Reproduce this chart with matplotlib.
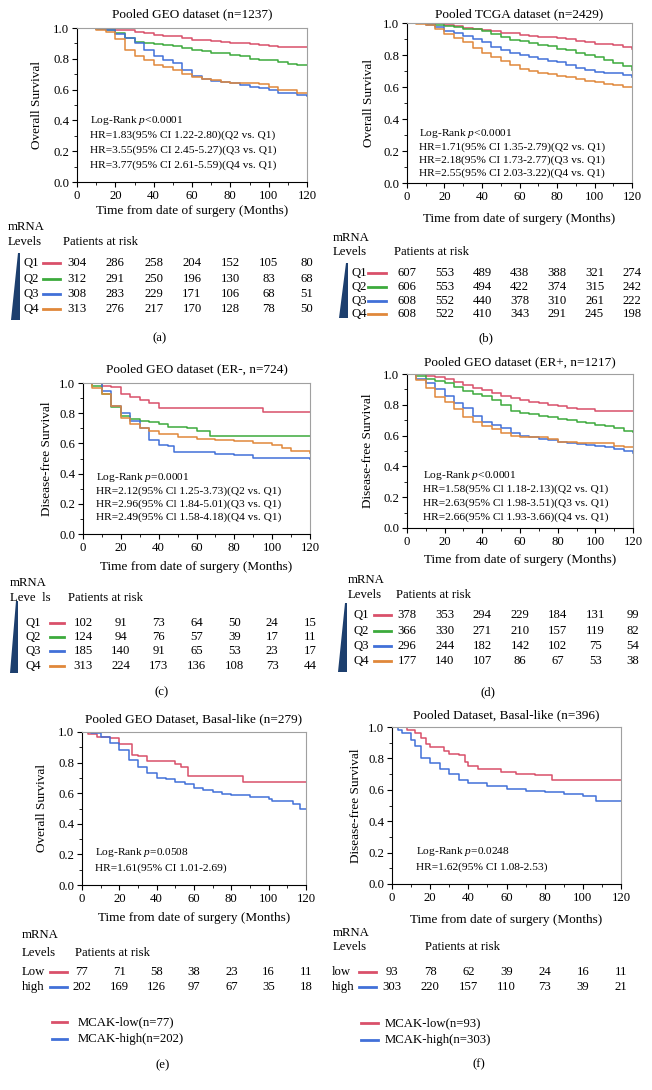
import matplotlib
matplotlib.use("Agg")
import matplotlib.pyplot as plt
import matplotlib.transforms as mtransforms
from matplotlib.lines import Line2D
from matplotlib.patches import Polygon
from matplotlib.ticker import MultipleLocator, FormatStrFormatter

plt.rcParams['font.family'] = ['Liberation Serif', 'DejaVu Serif']
plt.rcParams['mathtext.fontset'] = 'custom'
plt.rcParams['mathtext.rm'] = 'Liberation Serif'
plt.rcParams['mathtext.it'] = 'Liberation Serif:italic'

# ---------------- colours ----------------
C_RED = "#d9506a"
C_GREEN = "#3caa3c"
C_BLUE = "#4170d8"
C_ORANGE = "#e0883a"
C_TRI = "#1d3f6e"

# ---------------- data ----------------
risk_times = [0, 20, 40, 60, 80, 100, 120]
grid5 = [0, 5, 10, 15, 20, 25, 30, 35, 40, 45, 50, 55, 60, 65, 70, 75, 80, 85, 90, 95, 100, 105, 110, 115, 120]

# Panel (a) Pooled GEO dataset, overall survival
a_q1 = [1, 1, 1, 0.995, 0.99, 0.985, 0.975, 0.965, 0.955, 0.95, 0.945, 0.935, 0.925, 0.92, 0.915, 0.91, 0.905, 0.90, 0.895, 0.89, 0.885, 0.875, 0.875, 0.875, 0.875]
a_q2 = [1, 1, 0.995, 0.985, 0.965, 0.935, 0.91, 0.90, 0.895, 0.89, 0.88, 0.87, 0.86, 0.85, 0.84, 0.835, 0.825, 0.815, 0.80, 0.795, 0.79, 0.78, 0.765, 0.76, 0.76]
a_q3 = [1, 1, 0.995, 0.985, 0.96, 0.935, 0.90, 0.86, 0.82, 0.79, 0.77, 0.73, 0.69, 0.67, 0.655, 0.65, 0.64, 0.63, 0.62, 0.61, 0.595, 0.58, 0.575, 0.565, 0.56]
a_q4 = [1, 1, 0.99, 0.975, 0.93, 0.86, 0.82, 0.79, 0.76, 0.745, 0.73, 0.70, 0.68, 0.67, 0.66, 0.65, 0.645, 0.645, 0.64, 0.635, 0.615, 0.60, 0.595, 0.58, 0.575]
a_risk = {"Q1": [304, 286, 258, 204, 152, 105, 80],
          "Q2": [312, 291, 250, 196, 130, 83, 68],
          "Q3": [308, 283, 229, 171, 106, 68, 51],
          "Q4": [313, 276, 217, 170, 128, 78, 50]}

# Panel (b) Pooled TCGA dataset
b_q1 = [1, 1, 1, 1, 0.99, 0.98, 0.97, 0.96, 0.955, 0.95, 0.94, 0.935, 0.925, 0.92, 0.915, 0.91, 0.905, 0.90, 0.89, 0.88, 0.87, 0.87, 0.86, 0.85, 0.84]
b_q2 = [1, 1, 0.995, 0.99, 0.98, 0.975, 0.965, 0.96, 0.95, 0.93, 0.91, 0.895, 0.885, 0.875, 0.865, 0.855, 0.84, 0.83, 0.815, 0.80, 0.79, 0.77, 0.75, 0.73, 0.705]
b_q3 = [1, 1, 0.99, 0.975, 0.95, 0.94, 0.92, 0.90, 0.88, 0.85, 0.83, 0.81, 0.80, 0.785, 0.775, 0.765, 0.755, 0.74, 0.72, 0.705, 0.695, 0.69, 0.685, 0.675, 0.665]
b_q4 = [1, 0.995, 0.985, 0.965, 0.93, 0.905, 0.88, 0.845, 0.81, 0.785, 0.76, 0.735, 0.71, 0.70, 0.69, 0.68, 0.67, 0.66, 0.65, 0.64, 0.63, 0.62, 0.61, 0.60, 0.60]
b_risk = {"Q1": [607, 553, 489, 438, 388, 321, 274],
          "Q2": [606, 553, 494, 422, 374, 315, 242],
          "Q3": [608, 552, 440, 378, 310, 261, 222],
          "Q4": [608, 522, 410, 343, 291, 245, 198]}

# Panel (c) Pooled GEO dataset ER-
c_q1_t = [0, 5, 10, 15, 20, 25, 30, 35, 40, 95, 120]
c_q1 = [1, 1, 0.98, 0.975, 0.93, 0.91, 0.89, 0.87, 0.835, 0.81, 0.81]
c_q2_t = [0, 5, 10, 15, 20, 25, 30, 35, 40, 45, 55, 60, 67, 120]
c_q2 = [1, 0.98, 0.93, 0.84, 0.78, 0.76, 0.75, 0.74, 0.73, 0.71, 0.70, 0.68, 0.65, 0.65]
c_q3_t = [0, 5, 10, 15, 20, 25, 30, 35, 40, 45, 48, 60, 70, 80, 90, 120]
c_q3 = [1, 1, 0.95, 0.85, 0.80, 0.75, 0.70, 0.62, 0.59, 0.58, 0.545, 0.54, 0.53, 0.52, 0.505, 0.50]
c_q4_t = [0, 5, 10, 15, 20, 25, 30, 35, 40, 50, 60, 70, 80, 90, 100, 105, 110, 120]
c_q4 = [1, 0.97, 0.93, 0.85, 0.77, 0.73, 0.70, 0.68, 0.66, 0.64, 0.63, 0.62, 0.615, 0.60, 0.59, 0.57, 0.55, 0.535]
c_risk = {"Q1": [102, 91, 73, 64, 50, 24, 15],
          "Q2": [124, 94, 76, 57, 39, 17, 11],
          "Q3": [185, 140, 91, 65, 53, 23, 17],
          "Q4": [313, 224, 173, 136, 108, 73, 44]}

# Panel (d) Pooled GEO dataset ER+
d_q1 = [1, 1, 0.99, 0.98, 0.965, 0.95, 0.93, 0.91, 0.895, 0.875, 0.86, 0.845, 0.83, 0.82, 0.81, 0.80, 0.79, 0.78, 0.775, 0.77, 0.76, 0.76, 0.76, 0.76, 0.76]
d_q2 = [1, 0.99, 0.97, 0.955, 0.94, 0.915, 0.89, 0.87, 0.855, 0.83, 0.80, 0.76, 0.745, 0.74, 0.73, 0.72, 0.705, 0.70, 0.69, 0.68, 0.67, 0.665, 0.65, 0.63, 0.625]
d_q3 = [1, 0.97, 0.94, 0.90, 0.86, 0.81, 0.78, 0.73, 0.69, 0.67, 0.65, 0.62, 0.60, 0.59, 0.58, 0.57, 0.56, 0.555, 0.545, 0.54, 0.535, 0.525, 0.515, 0.50, 0.49]
d_q4 = [1, 0.96, 0.91, 0.85, 0.82, 0.77, 0.72, 0.69, 0.665, 0.64, 0.62, 0.595, 0.59, 0.59, 0.59, 0.575, 0.56, 0.56, 0.555, 0.555, 0.555, 0.555, 0.53, 0.525, 0.525]
d_risk = {"Q1": [378, 353, 294, 229, 184, 131, 99],
          "Q2": [366, 330, 271, 210, 157, 119, 82],
          "Q3": [296, 244, 182, 142, 102, 75, 54],
          "Q4": [177, 140, 107, 86, 67, 53, 38]}

# Panel (e) Pooled GEO Dataset, Basal-like, OS
e_low_t = [0, 3, 8, 15, 20, 27, 30, 35, 50, 53, 57, 86, 120]
e_low = [1, 0.985, 0.97, 0.96, 0.92, 0.85, 0.84, 0.81, 0.79, 0.77, 0.71, 0.67, 0.67]
e_high_t = [0, 5, 10, 15, 20, 25, 30, 35, 40, 45, 50, 55, 60, 65, 70, 75, 80, 90, 100, 102, 110, 113, 117, 120]
e_high = [1, 0.995, 0.97, 0.93, 0.88, 0.82, 0.77, 0.73, 0.70, 0.69, 0.67, 0.66, 0.635, 0.62, 0.61, 0.595, 0.585, 0.575, 0.565, 0.55, 0.55, 0.53, 0.50, 0.495]
e_risk = {"Low": [77, 71, 58, 38, 23, 16, 11],
          "high": [202, 169, 126, 97, 67, 35, 18]}

# Panel (f) Pooled Dataset, Basal-like, DFS
f_low_t = [0, 5, 8, 12, 15, 18, 20, 27, 30, 35, 38, 40, 45, 55, 57, 65, 75, 84, 120]
f_low = [1, 1, 0.98, 0.96, 0.93, 0.89, 0.87, 0.85, 0.83, 0.82, 0.78, 0.75, 0.735, 0.73, 0.715, 0.70, 0.695, 0.665, 0.665]
f_high_t = [0, 3, 5, 10, 12, 15, 20, 25, 30, 35, 40, 50, 60, 70, 80, 90, 100, 107, 120]
f_high = [1, 0.98, 0.96, 0.92, 0.88, 0.80, 0.77, 0.73, 0.70, 0.665, 0.645, 0.625, 0.605, 0.595, 0.585, 0.575, 0.56, 0.53, 0.53]
f_risk = {"low": [93, 78, 62, 39, 24, 16, 11],
          "high": [303, 220, 157, 110, 73, 39, 21]}

# ---------------- figure ----------------
W, H = 652, 1090
fig = plt.figure(figsize=(W / 100, H / 100), dpi=100)


def fx(x):
    return x / W


def fy(y):
    return 1 - y / H


def make_ax(l, r, t, b):
    return fig.add_axes([fx(l), fy(b), (r - l) / W, (b - t) / H])


def style_ax(ax, ylabel, title, title_y, xlabel_y, ylabel_x, box):
    l, r, t, b = box
    ax.set_xlim(0, 120)
    ax.set_ylim(0, 1.0)
    ax.set_xticks(range(0, 121, 20))
    ax.xaxis.set_minor_locator(MultipleLocator(10))
    ax.set_yticks([0, 0.2, 0.4, 0.6, 0.8, 1.0])
    ax.yaxis.set_minor_locator(MultipleLocator(0.1))
    ax.yaxis.set_major_formatter(FormatStrFormatter('%.1f'))
    ax.tick_params(which='major', direction='out', length=3.5, width=0.8, labelsize=9.2, pad=2)
    ax.tick_params(which='minor', direction='out', length=2, width=0.6)
    for s in ['top', 'right']:
        ax.spines[s].set_color('#a0a0a0')
        ax.spines[s].set_linewidth(0.8)
    for s in ['left', 'bottom']:
        ax.spines[s].set_linewidth(0.8)
    ax.set_xlabel("Time from date of surgery (Months)", fontsize=9.5)
    ax.xaxis.set_label_coords(0.5, -(xlabel_y - b) / (b - t))
    ax.xaxis.label.set_va('center')
    ax.set_ylabel(ylabel, fontsize=9.5)
    ax.yaxis.set_label_coords(-(l - ylabel_x) / (r - l), 0.5)
    ax.yaxis.label.set_va('center')
    fig.text(fx((l + r) / 2), fy(title_y), title, ha='center', va='center', fontsize=9.5)


def km(ax, t, s, color):
    ax.step(t, s, where='post', color=color, lw=1.1)


def risk_table(ax, rows, colors, ys, label_x, seg, tri=None):
    trans = mtransforms.blended_transform_factory(ax.transData, fig.transFigure)
    for (name, vals), c, y in zip(rows.items(), colors, ys):
        fig.text(fx(label_x), fy(y), name, ha='left', va='center', fontsize=9.2)
        fig.add_artist(Line2D([fx(seg[0]), fx(seg[1])], [fy(y), fy(y)],
                              transform=fig.transFigure, color=c, lw=2))
        for tt, v in zip(risk_times, vals):
            ax.text(tt, fy(y), str(v), transform=trans, ha='center', va='center', fontsize=9.2)
    if tri is not None:
        fig.add_artist(Polygon([(fx(px), fy(py)) for px, py in tri], closed=True,
                               transform=fig.transFigure, facecolor=C_TRI, edgecolor='none'))


def header(x, y_mrna, y_lev, x_par, levels_text="Levels"):
    fig.text(fx(x), fy(y_mrna), "mRNA", ha='left', va='center', fontsize=9.2)
    fig.text(fx(x), fy(y_lev), levels_text, ha='left', va='center', fontsize=9.2)
    fig.text(fx(x_par), fy(y_lev), "Patients at risk", ha='left', va='center', fontsize=9.2)


def annot(ax, x, ys, lines):
    for y, txt in zip(ys, lines):
        ax.text(x, y, txt, ha='left', va='center', fontsize=8.2)


q_colors = [C_RED, C_GREEN, C_BLUE, C_ORANGE]

# ---- (a)
box = (77, 307, 28, 182)
ax = make_ax(*box)
for s, c in zip([a_q1, a_q2, a_q3, a_q4], q_colors):
    km(ax, grid5, s, c)
style_ax(ax, "Overall Survival", "Pooled GEO dataset (n=1237)", 14, 211, 37, box)
annot(ax, 7, [0.40, 0.303, 0.206, 0.108],
      ["Log-Rank $p$<0.0001",
       "HR=1.83(95% CI 1.22-2.80)(Q2 vs. Q1)",
       "HR=3.55(95% CI 2.45-5.27)(Q3 vs. Q1)",
       "HR=3.77(95% CI 2.61-5.59)(Q4 vs. Q1)"])
header(8, 227, 242, 63)
risk_table(ax, a_risk, q_colors, [263, 279, 294, 309], 23, (43, 60),
           tri=[(18, 253), (20, 253), (20, 320), (11, 320)])
fig.text(fx(160), fy(338), "(a)", ha='center', va='center', fontsize=9.2)

# ---- (b)
box = (407, 632, 23, 183)
ax = make_ax(*box)
for s, c in zip([b_q1, b_q2, b_q3, b_q4], q_colors):
    km(ax, grid5, s, c)
style_ax(ax, "Overall Survival", "Pooled TCGA dataset (n=2429)", 14, 219, 369, box)
annot(ax, 6.4, [0.31, 0.226, 0.142, 0.062],
      ["Log-Rank $p$<0.0001",
       "HR=1.71(95% CI 1.35-2.79)(Q2 vs. Q1)",
       "HR=2.18(95% CI 1.73-2.77)(Q3 vs. Q1)",
       "HR=2.55(95% CI 2.03-3.22)(Q4 vs. Q1)"])
header(333, 238, 252, 394)
risk_table(ax, b_risk, q_colors, [273, 287, 301, 314], 351, (368, 386),
           tri=[(346, 263), (348, 263), (348, 318), (339, 318)])
fig.text(fx(486), fy(338), "(b)", ha='center', va='center', fontsize=9.2)

# ---- (c)
box = (83, 310, 383, 534)
ax = make_ax(*box)
for t, s, c in zip([c_q1_t, c_q2_t, c_q3_t, c_q4_t], [c_q1, c_q2, c_q3, c_q4], q_colors):
    km(ax, t, s, c)
style_ax(ax, "Disease-free Survival", "Pooled GEO dataset (ER-, n=724)", 369, 567, 47, box)
annot(ax, 7, [0.375, 0.283, 0.199, 0.11],
      ["Log-Rank $p$=0.0001",
       "HR=2.12(95% Cl 1.25-3.73)(Q2 vs. Q1)",
       "HR=2.96(95% Cl 1.84-5.01)(Q3 vs. Q1)",
       "HR=2.49(95% Cl 1.58-4.18)(Q4 vs. Q1)"])
header(10, 583, 598, 68, levels_text="Leve  ls")
risk_table(ax, c_risk, q_colors, [623, 637, 651, 666], 25, (50, 64),
           tri=[(16, 601), (18, 601), (18, 673), (10, 673)])
fig.text(fx(162), fy(692), "(c)", ha='center', va='center', fontsize=9.2)

# ---- (d)
box = (407, 633, 374, 528)
ax = make_ax(*box)
for s, c in zip([d_q1, d_q2, d_q3, d_q4], q_colors):
    km(ax, grid5, s, c)
style_ax(ax, "Disease-free Survival", "Pooled GEO dataset (ER+, n=1217)", 362, 560, 368, box)
annot(ax, 8.5, [0.342, 0.249, 0.158, 0.071],
      ["Log-Rank $p$<0.0001",
       "HR=1.58(95% Cl 1.18-2.13)(Q2 vs. Q1)",
       "HR=2.63(95% Cl 1.98-3.51)(Q3 vs. Q1)",
       "HR=2.66(95% Cl 1.93-3.66)(Q4 vs. Q1)"])
header(348, 580, 595, 396)
risk_table(ax, d_risk, q_colors, [615, 631, 646, 661], 353, (374, 391),
           tri=[(345, 603), (347, 603), (347, 672), (338, 672)])
fig.text(fx(488), fy(692), "(d)", ha='center', va='center', fontsize=9.2)

# ---- (e)
box = (82, 306, 732, 885)
ax = make_ax(*box)
km(ax, e_low_t, e_low, C_RED)
km(ax, e_high_t, e_high, C_BLUE)
style_ax(ax, "Overall Survival", "Pooled GEO Dataset, Basal-like (n=279)", 719, 918, 42, box)
annot(ax, 6.8, [0.211, 0.109],
      ["Log-Rank $p$=0.0508", "HR=1.61(95% CI 1.01-2.69)"])
header(22, 935, 953, 75)
risk_table(ax, e_risk, [C_RED, C_BLUE], [972, 987], 22, (50, 67))
for y, c, txt in [(1022, C_RED, "MCAK-low(n=77)"), (1039, C_BLUE, "MCAK-high(n=202)")]:
    fig.add_artist(Line2D([fx(52), fx(67)], [fy(y), fy(y)], transform=fig.transFigure, color=c, lw=2))
    fig.text(fx(78), fy(y), txt, ha='left', va='center', fontsize=9.2)
fig.text(fx(163), fy(1065), "(e)", ha='center', va='center', fontsize=9.2)

# ---- (f)
box = (392, 621, 727, 884)
ax = make_ax(*box)
km(ax, f_low_t, f_low, C_RED)
km(ax, f_high_t, f_high, C_BLUE)
style_ax(ax, "Disease-free Survival", "Pooled Dataset, Basal-like (n=396)", 715, 920, 356, box)
annot(ax, 12.6, [0.205, 0.11],
      ["Log-Rank $p$=0.0248", "HR=1.62(95% CI 1.08-2.53)"])
header(333, 933, 947, 425)
risk_table(ax, f_risk, [C_RED, C_BLUE], [972, 987], 332, (359, 376))
for y, c, txt in [(1023, C_RED, "MCAK-low(n=93)"), (1040, C_BLUE, "MCAK-high(n=303)")]:
    fig.add_artist(Line2D([fx(361), fx(378)], [fy(y), fy(y)], transform=fig.transFigure, color=c, lw=2))
    fig.text(fx(385), fy(y), txt, ha='left', va='center', fontsize=9.2)
fig.text(fx(479), fy(1064), "(f)", ha='center', va='center', fontsize=9.2)

fig.savefig("out.png", dpi=100)
